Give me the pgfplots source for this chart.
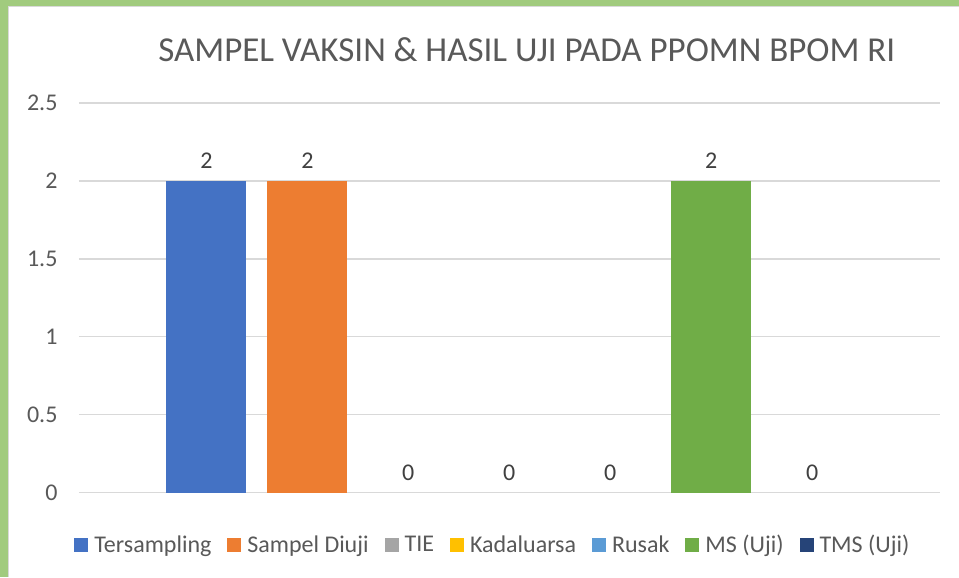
\documentclass[border=0pt]{standalone}
\usepackage{pgfplots}
\pgfplotsset{compat=1.18}
\usepackage{fontspec}
\setmainfont{Carlito}
\definecolor{bgreen}{HTML}{A1CB7E}
\definecolor{txt}{HTML}{595959}
\definecolor{lbl}{HTML}{404040}
\definecolor{gridc}{HTML}{D9D9D9}
\definecolor{c1}{HTML}{4472C4}
\definecolor{c2}{HTML}{ED7D31}
\definecolor{c3}{HTML}{A5A5A5}
\definecolor{c4}{HTML}{FFC000}
\definecolor{c5}{HTML}{5B9BD5}
\definecolor{c6}{HTML}{70AD47}
\definecolor{c7}{HTML}{264478}
\begin{document}
\begin{tikzpicture}[x=1bp,y=1bp]
\fill[bgreen] (0,0) rectangle (959,577);
\fill[white] (9,0) rectangle (959,570);
\draw[gridc, line width=1bp] (8.5,0) -- (8.5,570.5) -- (959,570.5);
\begin{axis}[
  at={(79bp,84bp)}, anchor=south west,
  scale only axis, width=861bp, height=390bp,
  xmin=-430.5, xmax=430.5, ymin=0, ymax=2.5,
  ytick={0,0.5,1,1.5,2,2.5}, xtick=\empty,
  ymajorgrids, grid style={gridc, line width=1.3bp},
  axis line style={draw=none}, major tick length=0pt,
  /pgf/number format/assume math mode=true,
  yticklabel style={font=\fontsize{24bp}{28bp}\selectfont, text=txt, xshift=-18bp},
  ybar=21bp, bar width=80bp,
  every axis plot/.append style={draw=none},
  nodes near coords,
  every node near coord/.append style={font=\fontsize{24bp}{28bp}\selectfont, text=lbl, yshift=9bp},
  clip=false,
  legend columns=7,
  legend style={at={(0.481,-0.1333)}, anchor=center, draw=none, fill=none,
    font=\fontsize{24bp}{28bp}\selectfont, text=txt,
    /tikz/every odd column/.append style={column sep=4bp},
    /tikz/every even column/.append style={column sep=14bp},
    inner sep=0pt},
  legend image code/.code={\fill[#1] (0bp,-7bp) rectangle (14bp,7bp);},
]
\addplot[fill=c1] coordinates {(0,2)};
\addplot[fill=c2] coordinates {(0,2)};
\addplot[fill=none, legend image code/.code={\fill[c3] (0bp,-7bp) rectangle (14bp,7bp);}] coordinates {(0,0)};
\addplot[fill=none, legend image code/.code={\fill[c4] (0bp,-7bp) rectangle (14bp,7bp);}] coordinates {(0,0)};
\addplot[fill=none, legend image code/.code={\fill[c5] (0bp,-7bp) rectangle (14bp,7bp);}] coordinates {(0,0)};
\addplot[fill=c6] coordinates {(0,2)};
\addplot[fill=none, legend image code/.code={\fill[c7] (0bp,-7bp) rectangle (14bp,7bp);}] coordinates {(0,0)};
\legend{Tersampling,Sampel Diuji,TIE,Kadaluarsa,Rusak,MS (Uji),TMS (Uji)}
\end{axis}
\node[text=txt, font=\fontsize{35bp}{40bp}\selectfont] at (527,527) {SAMPEL VAKSIN \& HASIL UJI PADA PPOMN BPOM RI};
\end{tikzpicture}
\end{document}
